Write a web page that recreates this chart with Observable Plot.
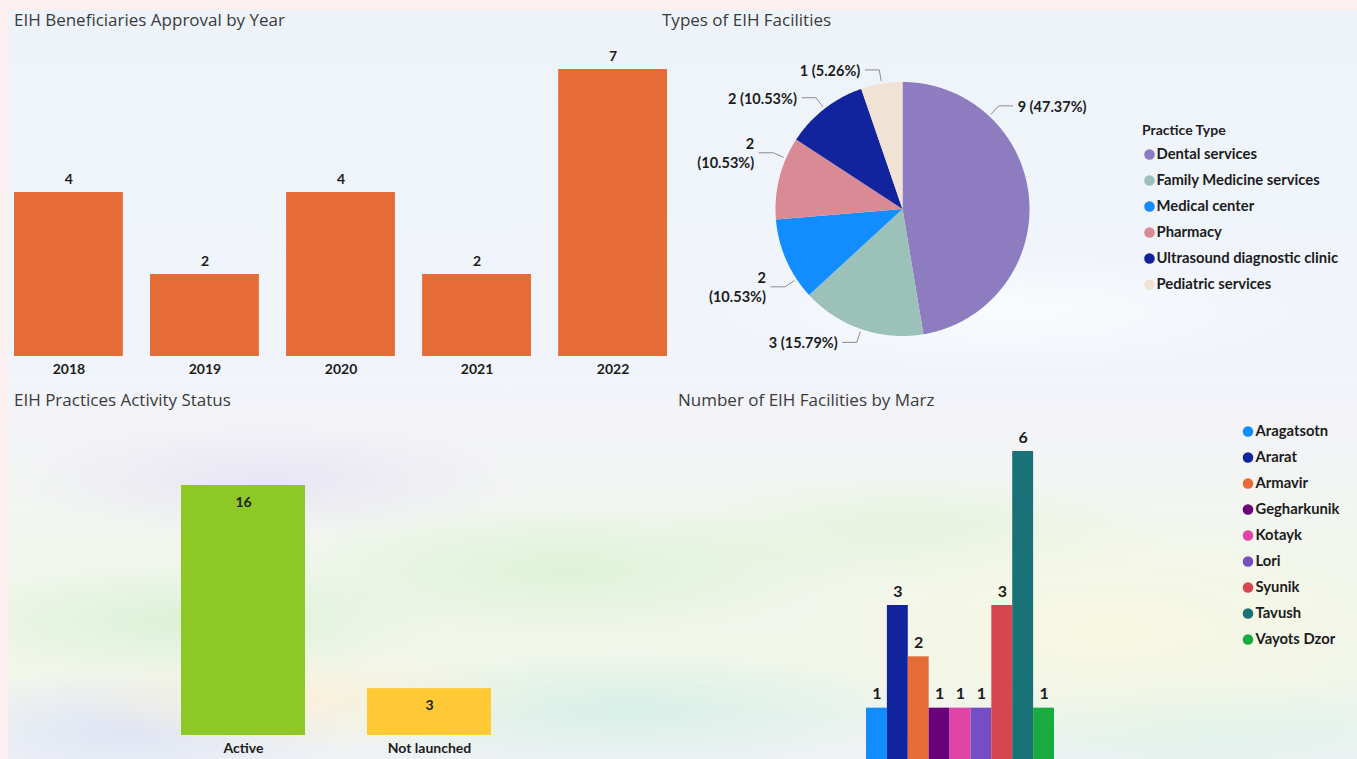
<!DOCTYPE html>
<html>
<head>
<meta charset="utf-8">
<script src="https://cdn.jsdelivr.net/npm/d3@7"></script>
<script src="https://cdn.jsdelivr.net/npm/@observablehq/plot@0.6"></script>
<style>
  body { margin: 0; }
  #page { position: relative; width: 1357px; height: 759px; overflow: hidden; background: #fbf0ef; font-family: Lato, sans-serif; }
  #panel { position: absolute; left: 8px; top: 10px; right: 0; bottom: 0;
    background:
      radial-gradient(ellipse 260px 60px at 260px 470px, rgba(228,224,244,0.7), rgba(228,224,244,0)),
      radial-gradient(ellipse 300px 70px at 560px 560px, rgba(214,240,205,0.7), rgba(214,240,205,0)),
      radial-gradient(ellipse 260px 60px at 180px 610px, rgba(205,238,200,0.6), rgba(205,238,200,0)),
      radial-gradient(ellipse 240px 50px at 300px 690px, rgba(250,240,215,0.8), rgba(250,240,215,0)),
      radial-gradient(ellipse 220px 60px at 120px 720px, rgba(220,225,245,0.8), rgba(220,225,245,0)),
      radial-gradient(ellipse 300px 60px at 620px 700px, rgba(205,238,228,0.7), rgba(205,238,228,0)),
      radial-gradient(ellipse 320px 120px at 1100px 620px, rgba(248,248,222,0.8), rgba(248,248,222,0)),
      radial-gradient(ellipse 260px 60px at 900px 520px, rgba(226,242,214,0.7), rgba(226,242,214,0)),
      radial-gradient(ellipse 300px 60px at 1200px 720px, rgba(220,242,232,0.7), rgba(220,242,232,0)),
      radial-gradient(ellipse 300px 60px at 1000px 300px, rgba(255,255,255,0.6), rgba(255,255,255,0)),
      linear-gradient(to bottom, #eef3fa 0%, #f1f5fb 48%, #f3f3f8 54%, #f2f6ef 70%, #f1f6ea 88%, #eff2f5 100%);
  }
  .title { position: absolute; font-family: "Open Sans", sans-serif; font-size: 17px; color: #3b3b3b; line-height: 20px; white-space: nowrap; }
  .legend-title { position: absolute; font-family: Lato, sans-serif; font-weight: 700; font-size: 14px; color: #1e1e1e; line-height: 18px; white-space: nowrap; }
  .chart { position: absolute; }
</style>
</head>
<body>
<div id="page">
  <div id="panel"></div>
  <div class="title" style="left:14px;top:10px">EIH Beneficiaries Approval by Year</div>
  <div class="title" style="left:662px;top:10px">Types of EIH Facilities</div>
  <div class="title" style="left:14px;top:390px">EIH Practices Activity Status</div>
  <div class="title" style="left:678px;top:390px">Number of EIH Facilities by Marz</div>
  <div class="legend-title" style="left:1142px;top:121px">Practice Type</div>
</div>
<script>
// ---------- DATA ----------
const years = ["2018", "2019", "2020", "2021", "2022"];
const approvals = [4, 2, 4, 2, 7];

const practiceTypes = ["Dental services", "Family Medicine services", "Medical center", "Pharmacy", "Ultrasound diagnostic clinic", "Pediatric services"];
const practiceCounts = [9, 3, 2, 2, 2, 1];
const practiceColors = ["#8D7DC0", "#9CC1B8", "#118DFF", "#D98A95", "#12239E", "#F0E3D5"];

const statuses = ["Active", "Not launched"];
const statusCounts = [16, 3];
const statusColors = ["#8DC826", "#FFC936"];

const marzes = ["Aragatsotn", "Ararat", "Armavir", "Gegharkunik", "Kotayk", "Lori", "Syunik", "Tavush", "Vayots Dzor"];
const marzCounts = [1, 3, 2, 1, 1, 1, 3, 6, 1];
const marzColors = ["#118DFF", "#12239E", "#E66C37", "#6B007B", "#E044A7", "#744EC2", "#D64550", "#197278", "#1AAB40"];

// ---------- LAYOUT ----------
const page = document.getElementById("page");
const LABEL = "#1c1c1c";
const baseStyle = { background: "transparent", overflow: "visible", fontFamily: "Lato, sans-serif" };
function place(svg, left, top) {
  svg.classList.add("chart");
  svg.style.left = left + "px";
  svg.style.top = top + "px";
  page.appendChild(svg);
}

// ---------- Chart 1: approvals by year ----------
const yearData = years.map((y, i) => ({ year: y, value: approvals[i] }));
place(Plot.plot({
  width: 680, height: 345,
  marginTop: 29, marginBottom: 29, marginLeft: 14, marginRight: 13,
  style: baseStyle,
  x: { domain: years, paddingInner: 0.2, paddingOuter: 0, round: false, axis: null },
  y: { domain: [0, 7], axis: null },
  marks: [
    Plot.barY(yearData, { x: "year", y: "value", fill: "#E66C37" }),
    Plot.text(yearData, { x: "year", y: "value", text: d => String(d.value), dy: -13, fontSize: 14, fontWeight: 700, fill: LABEL }),
    Plot.text(yearData, { x: "year", y: () => 0, text: "year", dy: 13, fontSize: 14, fontWeight: 700, fill: LABEL })
  ]
}), 0, 40);

// ---------- Chart 2: pie ----------
const practiceData = practiceTypes.map((t, i) => ({ type: t, value: practiceCounts[i] }));
const total = d3.sum(practiceCounts);
const arcs = d3.pie().sort(null).value(d => d.value)(practiceData);
const piePts = [];
for (const a of arcs) {
  piePts.push({ type: a.data.type, x: 0, y: 0 });
  const n = Math.max(2, Math.ceil((a.endAngle - a.startAngle) / (Math.PI / 360)));
  for (let k = 0; k <= n; k++) {
    const t = a.startAngle + (a.endAngle - a.startAngle) * k / n;
    piePts.push({ type: a.data.type, x: Math.sin(t), y: Math.cos(t) });
  }
}
// label placement tweaks (degrees clockwise from top), and which labels wrap
const R = 127; // pixels per unit radius
const labelAngleOverride = { "Dental services": 43, "Medical center": 236.5, "Pharmacy": 293.5 };
const wrapLabels = new Set(["Medical center", "Pharmacy"]);
const leaderPts = [], labelPts = [];
for (const a of arcs) {
  const t = a.data.type;
  const ang = labelAngleOverride[t] !== undefined ? labelAngleOverride[t] * Math.PI / 180 : (a.startAngle + a.endAngle) / 2;
  const side = Math.sin(ang) >= 0 ? 1 : -1;
  const r0 = 1 + 3 / R, r1 = 1 + 14 / R, h = 14 / R;
  const ex = Math.sin(ang) * r1, ey = Math.cos(ang) * r1;
  leaderPts.push({ type: t, x: Math.sin(ang) * r0, y: Math.cos(ang) * r0 });
  leaderPts.push({ type: t, x: ex, y: ey });
  leaderPts.push({ type: t, x: ex + side * h, y: ey });
  const pct = (a.data.value / total * 100).toFixed(2) + "%";
  labelPts.push({ type: t, x: ex + side * h, y: ey, side,
    text: wrapLabels.has(t) ? `${a.data.value}\n(${pct})` : `${a.data.value} (${pct})` });
}
place(Plot.plot({
  width: 707, height: 350,
  style: baseStyle,
  x: { domain: [-1, 1], range: [252 - R, 252 + R], axis: null },
  y: { domain: [-1, 1], range: [178.5 + R, 178.5 - R], axis: null },
  color: { domain: practiceTypes, range: practiceColors },
  marks: [
    Plot.line(piePts, { x: "x", y: "y", z: "type", fill: "type", stroke: "none", curve: "linear" }),
    Plot.line(leaderPts, { x: "x", y: "y", z: "type", stroke: "#8c8c8c", strokeWidth: 1 }),
    Plot.text(labelPts.filter(d => d.side > 0), { x: "x", y: "y", text: "text", dx: 5, textAnchor: "start", fontSize: 14.5, fontWeight: 700, fill: LABEL, lineHeight: 1.3 }),
    Plot.text(labelPts.filter(d => d.side < 0), { x: "x", y: "y", text: "text", dx: -5, textAnchor: "end", fontSize: 14.5, fontWeight: 700, fill: LABEL, lineHeight: 1.3 })
  ]
}), 650, 30);

// pie legend
place(Plot.plot({
  width: 217, height: 200, marginLeft: 9, marginRight: 0, marginTop: 0, marginBottom: 0,
  style: baseStyle,
  y: { type: "point", domain: practiceTypes, range: [42, 176], padding: 0, axis: null },
  color: { domain: practiceTypes, range: practiceColors },
  marks: [
    Plot.dot(practiceTypes, { y: d => d, fill: d => d, r: 5.3, frameAnchor: "left" }),
    Plot.text(practiceTypes, { y: d => d, text: d => d, frameAnchor: "left", dx: 7, textAnchor: "start", fontSize: 14.8, fontWeight: 700, fill: LABEL })
  ]
}), 1140, 110);

// ---------- Chart 3: activity status ----------
const statusData = statuses.map((s, i) => ({ status: s, value: statusCounts[i] }));
place(Plot.plot({
  width: 680, height: 339, marginTop: 65, marginBottom: 24,
  style: baseStyle,
  x: { domain: statuses, range: [181, 491], paddingInner: 1 / 3, paddingOuter: 0, round: false, axis: null },
  y: { domain: [0, 16], axis: null },
  color: { domain: statuses, range: statusColors },
  marks: [
    Plot.barY(statusData, { x: "status", y: "value", fill: "status" }),
    Plot.text(statusData, { x: "status", y: "value", text: d => String(d.value), dy: 17, fontSize: 14, fontWeight: 700, fill: LABEL }),
    Plot.text(statusData, { x: "status", y: () => 0, text: "status", dy: 13, fontSize: 14, fontWeight: 700, fill: LABEL })
  ]
}), 0, 420);

// ---------- Chart 4: facilities by marz ----------
const marzData = marzes.map((m, i) => ({ marz: m, value: marzCounts[i] }));
place(Plot.plot({
  width: 560, height: 339, marginTop: 31, marginBottom: 0,
  style: baseStyle,
  x: { domain: marzes, range: [216, 404], padding: 0, round: false, axis: null },
  y: { domain: [0, 6], axis: null },
  color: { domain: marzes, range: marzColors },
  marks: [
    Plot.barY(marzData, { x: "marz", y: "value", fill: "marz" }),
    Plot.text(marzData, { x: "marz", y: "value", text: d => String(d.value), dy: -14, fontSize: 16, fontWeight: 700, fill: LABEL })
  ]
}), 650, 420);

// marz legend
place(Plot.plot({
  width: 119, height: 250, marginLeft: 9.5, marginRight: 0, marginTop: 0, marginBottom: 0,
  style: baseStyle,
  y: { type: "point", domain: marzes, range: [18.3, 231.7], padding: 0, axis: null },
  color: { domain: marzes, range: marzColors },
  marks: [
    Plot.dot(marzes, { y: d => d, fill: d => d, r: 5.3, frameAnchor: "left" }),
    Plot.text(marzes, { y: d => d, text: d => d, frameAnchor: "left", dx: 7.5, textAnchor: "start", fontSize: 14.8, fontWeight: 700, fill: LABEL })
  ]
}), 1238, 410);
</script>
</body>
</html>
